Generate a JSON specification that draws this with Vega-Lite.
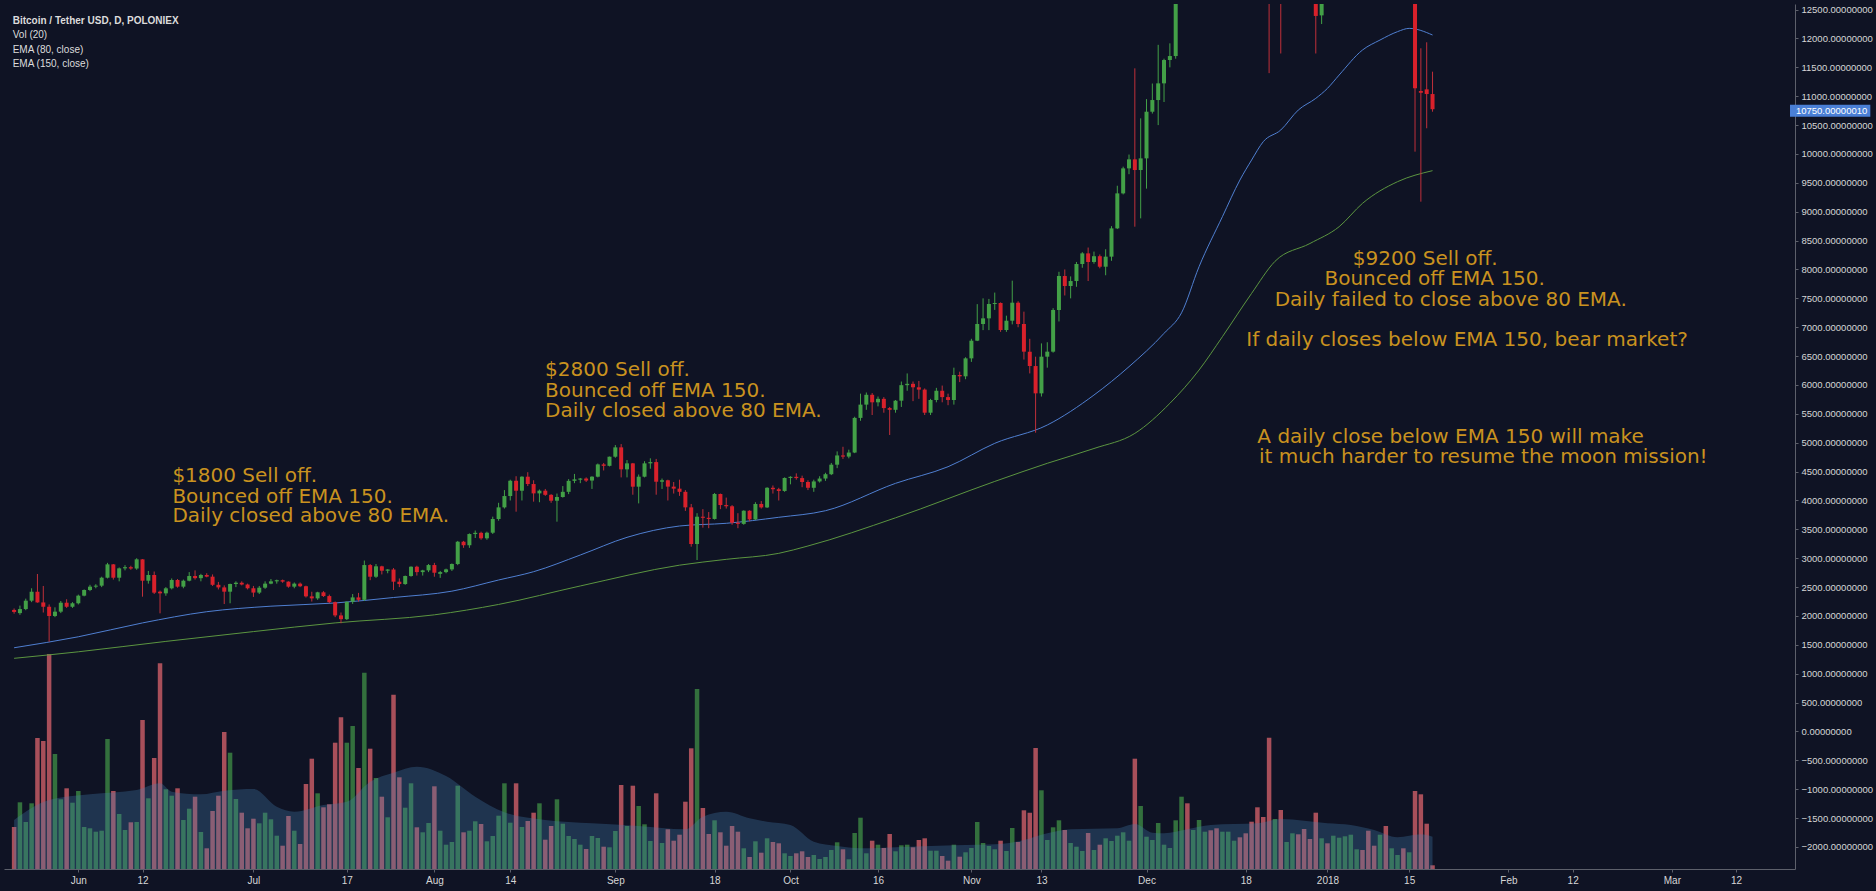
{
"$schema":"https://vega.github.io/schema/vega-lite/v6.json",
"width":1791,"height":865,
"autosize":{"type":"none"},
"padding":{"left":4,"top":4,"right":81,"bottom":22},
"background":"#0f1324",
"config":{"view":{"stroke":null}},
"title":{"text":"Bitcoin / Tether USD, D, POLONIEX","subtitle":["Vol (20)","EMA (80, close)","EMA (150, close)"],"anchor":"start","frame":"group","orient":"top","offset":-65,"dx":8.7,"font":"Liberation Sans","fontSize":10,"fontWeight":"bold","color":"#dcdcdc","subtitleFont":"Liberation Sans","subtitleFontSize":10,"subtitleColor":"#dcdcdc","subtitleLineHeight":14.4,"subtitlePadding":4.3},
"datasets":{
"candles":[
{"t":"2017-05-21","o":2105,"h":2130,"l":2040,"c":2070,"v":42},
{"t":"2017-05-22","o":2050,"h":2180,"l":2020,"c":2120,"v":66.7},
{"t":"2017-05-23","o":2120,"h":2300,"l":2100,"c":2265,"v":47},
{"t":"2017-05-24","o":2265,"h":2480,"l":2240,"c":2420,"v":65.7},
{"t":"2017-05-25","o":2420,"h":2727,"l":2230,"c":2235,"v":131},
{"t":"2017-05-26","o":2235,"h":2520,"l":2060,"c":2160,"v":128},
{"t":"2017-05-27","o":2160,"h":2200,"l":1555,"c":2000,"v":215},
{"t":"2017-05-28","o":2000,"h":2150,"l":1980,"c":2075,"v":115},
{"t":"2017-05-29","o":2075,"h":2260,"l":2050,"c":2230,"v":69.7},
{"t":"2017-05-30","o":2230,"h":2290,"l":2140,"c":2160,"v":80.7},
{"t":"2017-05-31","o":2160,"h":2240,"l":2140,"c":2220,"v":66.3},
{"t":"2017-06-01","o":2220,"h":2370,"l":2200,"c":2352,"v":78},
{"t":"2017-06-02","o":2352,"h":2460,"l":2340,"c":2450,"v":42},
{"t":"2017-06-03","o":2450,"h":2540,"l":2430,"c":2508,"v":40.7},
{"t":"2017-06-04","o":2508,"h":2550,"l":2480,"c":2525,"v":37.3},
{"t":"2017-06-05","o":2525,"h":2680,"l":2500,"c":2663,"v":38.3},
{"t":"2017-06-06","o":2663,"h":2920,"l":2650,"c":2894,"v":130},
{"t":"2017-06-07","o":2894,"h":2900,"l":2630,"c":2663,"v":78},
{"t":"2017-06-08","o":2663,"h":2840,"l":2600,"c":2825,"v":55},
{"t":"2017-06-09","o":2825,"h":2880,"l":2790,"c":2845,"v":39},
{"t":"2017-06-10","o":2845,"h":2870,"l":2800,"c":2822,"v":46.7},
{"t":"2017-06-11","o":2822,"h":3000,"l":2800,"c":2981,"v":47},
{"t":"2017-06-12","o":2981,"h":2985,"l":2334,"c":2611,"v":149},
{"t":"2017-06-13","o":2611,"h":2780,"l":2560,"c":2710,"v":70.7},
{"t":"2017-06-14","o":2710,"h":2770,"l":2380,"c":2404,"v":111},
{"t":"2017-06-15","o":2421,"h":2440,"l":2046,"c":2392,"v":205.7},
{"t":"2017-06-16","o":2392,"h":2500,"l":2350,"c":2479,"v":79.7},
{"t":"2017-06-17","o":2479,"h":2650,"l":2460,"c":2623,"v":73.3},
{"t":"2017-06-18","o":2623,"h":2640,"l":2490,"c":2508,"v":80.7},
{"t":"2017-06-19","o":2508,"h":2630,"l":2480,"c":2611,"v":49},
{"t":"2017-06-20","o":2611,"h":2760,"l":2600,"c":2692,"v":60.3},
{"t":"2017-06-21","o":2692,"h":2790,"l":2630,"c":2655,"v":72.3},
{"t":"2017-06-22","o":2655,"h":2730,"l":2600,"c":2710,"v":37},
{"t":"2017-06-23","o":2710,"h":2740,"l":2670,"c":2681,"v":20.7},
{"t":"2017-06-24","o":2681,"h":2720,"l":2520,"c":2540,"v":58},
{"t":"2017-06-25","o":2540,"h":2590,"l":2460,"c":2495,"v":73.3},
{"t":"2017-06-26","o":2495,"h":2530,"l":2207,"c":2421,"v":137},
{"t":"2017-06-27","o":2421,"h":2560,"l":2220,"c":2554,"v":116.3},
{"t":"2017-06-28","o":2554,"h":2600,"l":2500,"c":2576,"v":70},
{"t":"2017-06-29","o":2576,"h":2600,"l":2530,"c":2545,"v":56.3},
{"t":"2017-06-30","o":2545,"h":2560,"l":2460,"c":2480,"v":40.7},
{"t":"2017-07-01","o":2480,"h":2520,"l":2330,"c":2405,"v":50.3},
{"t":"2017-07-02","o":2405,"h":2520,"l":2380,"c":2490,"v":45.7},
{"t":"2017-07-03","o":2490,"h":2600,"l":2470,"c":2560,"v":56.3},
{"t":"2017-07-04","o":2560,"h":2640,"l":2550,"c":2600,"v":49.7},
{"t":"2017-07-05","o":2600,"h":2630,"l":2560,"c":2620,"v":33.3},
{"t":"2017-07-06","o":2620,"h":2630,"l":2575,"c":2595,"v":23.3},
{"t":"2017-07-07","o":2595,"h":2600,"l":2490,"c":2508,"v":53},
{"t":"2017-07-08","o":2508,"h":2580,"l":2480,"c":2560,"v":38.3},
{"t":"2017-07-09","o":2560,"h":2580,"l":2500,"c":2515,"v":25},
{"t":"2017-07-10","o":2515,"h":2525,"l":2320,"c":2340,"v":85},
{"t":"2017-07-11","o":2340,"h":2420,"l":2250,"c":2305,"v":110.3},
{"t":"2017-07-12","o":2305,"h":2420,"l":2280,"c":2410,"v":75.7},
{"t":"2017-07-13","o":2410,"h":2430,"l":2330,"c":2345,"v":61.7},
{"t":"2017-07-14","o":2345,"h":2370,"l":2220,"c":2240,"v":64.7},
{"t":"2017-07-15","o":2240,"h":2250,"l":1980,"c":2010,"v":126.3},
{"t":"2017-07-16","o":2010,"h":2060,"l":1873,"c":1945,"v":151.7},
{"t":"2017-07-17","o":1945,"h":2250,"l":1930,"c":2247,"v":126.3},
{"t":"2017-07-18","o":2247,"h":2380,"l":2210,"c":2322,"v":143},
{"t":"2017-07-19","o":2322,"h":2400,"l":2250,"c":2280,"v":101},
{"t":"2017-07-20","o":2280,"h":2960,"l":2260,"c":2882,"v":196.3},
{"t":"2017-07-21","o":2882,"h":2900,"l":2620,"c":2680,"v":120.3},
{"t":"2017-07-22","o":2680,"h":2900,"l":2660,"c":2860,"v":91},
{"t":"2017-07-23","o":2860,"h":2870,"l":2720,"c":2784,"v":72.3},
{"t":"2017-07-24","o":2784,"h":2810,"l":2740,"c":2805,"v":51.7},
{"t":"2017-07-25","o":2805,"h":2830,"l":2450,"c":2594,"v":174.3},
{"t":"2017-07-26","o":2594,"h":2650,"l":2500,"c":2553,"v":91.7},
{"t":"2017-07-27","o":2553,"h":2700,"l":2540,"c":2692,"v":61.3},
{"t":"2017-07-28","o":2692,"h":2860,"l":2680,"c":2853,"v":85.7},
{"t":"2017-07-29","o":2853,"h":2870,"l":2700,"c":2760,"v":41.7},
{"t":"2017-07-30","o":2760,"h":2800,"l":2700,"c":2790,"v":36.7},
{"t":"2017-07-31","o":2790,"h":2900,"l":2760,"c":2882,"v":46},
{"t":"2017-08-01","o":2882,"h":2920,"l":2680,"c":2749,"v":82.7},
{"t":"2017-08-02","o":2730,"h":2780,"l":2660,"c":2760,"v":38.3},
{"t":"2017-08-03","o":2760,"h":2820,"l":2740,"c":2807,"v":24.3},
{"t":"2017-08-04","o":2807,"h":2910,"l":2780,"c":2900,"v":27},
{"t":"2017-08-05","o":2900,"h":3300,"l":2880,"c":3286,"v":83.3},
{"t":"2017-08-06","o":3286,"h":3300,"l":3180,"c":3225,"v":36.7},
{"t":"2017-08-07","o":3225,"h":3430,"l":3180,"c":3419,"v":38.3},
{"t":"2017-08-08","o":3419,"h":3480,"l":3350,"c":3440,"v":47.7},
{"t":"2017-08-09","o":3440,"h":3460,"l":3320,"c":3345,"v":45},
{"t":"2017-08-10","o":3345,"h":3460,"l":3320,"c":3442,"v":27.7},
{"t":"2017-08-11","o":3442,"h":3720,"l":3420,"c":3679,"v":33},
{"t":"2017-08-12","o":3679,"h":3960,"l":3650,"c":3881,"v":53.3},
{"t":"2017-08-13","o":3881,"h":4180,"l":3860,"c":4077,"v":85.7},
{"t":"2017-08-14","o":4077,"h":4360,"l":4000,"c":4342,"v":46.3},
{"t":"2017-08-15","o":4342,"h":4420,"l":3806,"c":4169,"v":85.7},
{"t":"2017-08-16","o":4169,"h":4420,"l":4000,"c":4412,"v":42},
{"t":"2017-08-17","o":4412,"h":4490,"l":4250,"c":4285,"v":48},
{"t":"2017-08-18","o":4285,"h":4350,"l":3980,"c":4123,"v":56.3},
{"t":"2017-08-19","o":4123,"h":4190,"l":3970,"c":4170,"v":65.7},
{"t":"2017-08-20","o":4170,"h":4200,"l":4080,"c":4098,"v":29.3},
{"t":"2017-08-21","o":4098,"h":4110,"l":3960,"c":3996,"v":43},
{"t":"2017-08-22","o":3996,"h":4120,"l":3633,"c":4060,"v":69.7},
{"t":"2017-08-23","o":4060,"h":4250,"l":4050,"c":4150,"v":45.3},
{"t":"2017-08-24","o":4150,"h":4370,"l":4110,"c":4340,"v":33},
{"t":"2017-08-25","o":4340,"h":4460,"l":4300,"c":4366,"v":30},
{"t":"2017-08-26","o":4360,"h":4390,"l":4300,"c":4380,"v":24.3},
{"t":"2017-08-27","o":4380,"h":4400,"l":4320,"c":4345,"v":20},
{"t":"2017-08-28","o":4345,"h":4420,"l":4200,"c":4412,"v":33},
{"t":"2017-08-29","o":4412,"h":4640,"l":4400,"c":4625,"v":31},
{"t":"2017-08-30","o":4625,"h":4650,"l":4520,"c":4600,"v":22.3},
{"t":"2017-08-31","o":4600,"h":4760,"l":4590,"c":4758,"v":21.7},
{"t":"2017-09-01","o":4758,"h":4960,"l":4740,"c":4920,"v":38},
{"t":"2017-09-02","o":4920,"h":4977,"l":4400,"c":4539,"v":84},
{"t":"2017-09-03","o":4539,"h":4700,"l":4400,"c":4643,"v":43},
{"t":"2017-09-04","o":4643,"h":4650,"l":4100,"c":4239,"v":83.3},
{"t":"2017-09-05","o":4239,"h":4450,"l":3950,"c":4412,"v":63},
{"t":"2017-09-06","o":4412,"h":4680,"l":4400,"c":4643,"v":44.7},
{"t":"2017-09-07","o":4643,"h":4730,"l":4550,"c":4665,"v":28},
{"t":"2017-09-08","o":4665,"h":4720,"l":4100,"c":4325,"v":75.7},
{"t":"2017-09-09","o":4325,"h":4380,"l":4200,"c":4350,"v":26},
{"t":"2017-09-10","o":4350,"h":4360,"l":4000,"c":4240,"v":39.7},
{"t":"2017-09-11","o":4240,"h":4320,"l":4120,"c":4205,"v":28.3},
{"t":"2017-09-12","o":4205,"h":4360,"l":4080,"c":4150,"v":34.3},
{"t":"2017-09-13","o":4150,"h":4180,"l":3820,"c":3881,"v":67.3},
{"t":"2017-09-14","o":3881,"h":3940,"l":3200,"c":3246,"v":120.7},
{"t":"2017-09-15","o":3246,"h":3780,"l":2969,"c":3719,"v":180},
{"t":"2017-09-16","o":3719,"h":3850,"l":3530,"c":3700,"v":61},
{"t":"2017-09-17","o":3700,"h":3800,"l":3520,"c":3680,"v":35},
{"t":"2017-09-18","o":3680,"h":4130,"l":3670,"c":4112,"v":48.7},
{"t":"2017-09-19","o":4112,"h":4120,"l":3850,"c":3921,"v":36.7},
{"t":"2017-09-20","o":3921,"h":4050,"l":3860,"c":3900,"v":23.3},
{"t":"2017-09-21","o":3900,"h":3920,"l":3580,"c":3615,"v":43},
{"t":"2017-09-22","o":3615,"h":3780,"l":3520,"c":3595,"v":37.3},
{"t":"2017-09-23","o":3595,"h":3830,"l":3580,"c":3823,"v":20.7},
{"t":"2017-09-24","o":3823,"h":3830,"l":3640,"c":3673,"v":12},
{"t":"2017-09-25","o":3673,"h":3970,"l":3660,"c":3940,"v":27.7},
{"t":"2017-09-26","o":3940,"h":3990,"l":3860,"c":3880,"v":16.3},
{"t":"2017-09-27","o":3880,"h":4230,"l":3870,"c":4220,"v":30.7},
{"t":"2017-09-28","o":4220,"h":4260,"l":4120,"c":4195,"v":27},
{"t":"2017-09-29","o":4195,"h":4220,"l":4000,"c":4165,"v":25.7},
{"t":"2017-09-30","o":4165,"h":4400,"l":4150,"c":4390,"v":15.7},
{"t":"2017-10-01","o":4390,"h":4420,"l":4280,"c":4410,"v":13},
{"t":"2017-10-02","o":4410,"h":4470,"l":4360,"c":4388,"v":15.7},
{"t":"2017-10-03","o":4388,"h":4430,"l":4230,"c":4320,"v":17.7},
{"t":"2017-10-04","o":4320,"h":4350,"l":4180,"c":4220,"v":12},
{"t":"2017-10-05","o":4220,"h":4360,"l":4150,"c":4330,"v":14},
{"t":"2017-10-06","o":4330,"h":4420,"l":4310,"c":4380,"v":10},
{"t":"2017-10-07","o":4380,"h":4480,"l":4340,"c":4455,"v":12},
{"t":"2017-10-08","o":4455,"h":4650,"l":4440,"c":4620,"v":19},
{"t":"2017-10-09","o":4620,"h":4850,"l":4560,"c":4780,"v":26.7},
{"t":"2017-10-10","o":4780,"h":4930,"l":4720,"c":4760,"v":19.7},
{"t":"2017-10-11","o":4760,"h":4880,"l":4730,"c":4830,"v":9.7},
{"t":"2017-10-12","o":4830,"h":5450,"l":4820,"c":5430,"v":36},
{"t":"2017-10-13","o":5430,"h":5850,"l":5380,"c":5660,"v":51.3},
{"t":"2017-10-14","o":5660,"h":5870,"l":5570,"c":5830,"v":15.7},
{"t":"2017-10-15","o":5830,"h":5860,"l":5480,"c":5700,"v":28.3},
{"t":"2017-10-16","o":5700,"h":5800,"l":5630,"c":5760,"v":24.3},
{"t":"2017-10-17","o":5760,"h":5790,"l":5520,"c":5600,"v":21},
{"t":"2017-10-18","o":5600,"h":5620,"l":5134,"c":5570,"v":35},
{"t":"2017-10-19","o":5570,"h":5740,"l":5520,"c":5728,"v":17.7},
{"t":"2017-10-20","o":5728,"h":6060,"l":5620,"c":5997,"v":23.7},
{"t":"2017-10-21","o":5997,"h":6200,"l":5900,"c":6020,"v":24.3},
{"t":"2017-10-22","o":6020,"h":6060,"l":5720,"c":5960,"v":21.7},
{"t":"2017-10-23","o":5960,"h":6070,"l":5760,"c":5920,"v":29},
{"t":"2017-10-24","o":5920,"h":5940,"l":5480,"c":5520,"v":30.7},
{"t":"2017-10-25","o":5520,"h":5760,"l":5480,"c":5740,"v":18.3},
{"t":"2017-10-26","o":5740,"h":5950,"l":5700,"c":5900,"v":18.3},
{"t":"2017-10-27","o":5900,"h":5990,"l":5700,"c":5790,"v":13},
{"t":"2017-10-28","o":5790,"h":5850,"l":5650,"c":5740,"v":8.3},
{"t":"2017-10-29","o":5740,"h":6300,"l":5660,"c":6173,"v":24.3},
{"t":"2017-10-30","o":6173,"h":6230,"l":6050,"c":6150,"v":12.3},
{"t":"2017-10-31","o":6150,"h":6480,"l":6100,"c":6461,"v":16.7},
{"t":"2017-11-01","o":6461,"h":6800,"l":6400,"c":6767,"v":21},
{"t":"2017-11-02","o":6767,"h":7400,"l":6760,"c":7056,"v":47},
{"t":"2017-11-03","o":7056,"h":7500,"l":6950,"c":7154,"v":26},
{"t":"2017-11-04","o":7154,"h":7490,"l":6950,"c":7402,"v":23},
{"t":"2017-11-05","o":7402,"h":7600,"l":7300,"c":7420,"v":19.7},
{"t":"2017-11-06","o":7420,"h":7430,"l":6920,"c":6952,"v":28.3},
{"t":"2017-11-07","o":6952,"h":7200,"l":6920,"c":7113,"v":18},
{"t":"2017-11-08","o":7113,"h":7806,"l":7050,"c":7425,"v":41},
{"t":"2017-11-09","o":7425,"h":7450,"l":7000,"c":7056,"v":27},
{"t":"2017-11-10","o":7056,"h":7270,"l":6440,"c":6577,"v":58.7},
{"t":"2017-11-11","o":6577,"h":6800,"l":6200,"c":6328,"v":56.3},
{"t":"2017-11-12","o":6328,"h":6490,"l":5174,"c":5855,"v":121},
{"t":"2017-11-13","o":5855,"h":6720,"l":5800,"c":6490,"v":78.7},
{"t":"2017-11-14","o":6490,"h":6740,"l":6300,"c":6577,"v":29},
{"t":"2017-11-15","o":6577,"h":7330,"l":6560,"c":7298,"v":41.7},
{"t":"2017-11-16","o":7298,"h":7960,"l":7100,"c":7887,"v":48.7},
{"t":"2017-11-17","o":7887,"h":8000,"l":7550,"c":7714,"v":39},
{"t":"2017-11-18","o":7714,"h":7880,"l":7500,"c":7800,"v":26},
{"t":"2017-11-19","o":7800,"h":8130,"l":7700,"c":8095,"v":22.3},
{"t":"2017-11-20","o":8095,"h":8300,"l":8030,"c":8279,"v":18},
{"t":"2017-11-21","o":8279,"h":8380,"l":7800,"c":8130,"v":36},
{"t":"2017-11-22","o":8130,"h":8310,"l":8100,"c":8230,"v":19},
{"t":"2017-11-23","o":8230,"h":8260,"l":8020,"c":8048,"v":24.3},
{"t":"2017-11-24","o":8048,"h":8350,"l":7900,"c":8222,"v":30.7},
{"t":"2017-11-25","o":8222,"h":8750,"l":8150,"c":8712,"v":28},
{"t":"2017-11-26","o":8712,"h":9450,"l":8700,"c":9318,"v":33.3},
{"t":"2017-11-27","o":9318,"h":9780,"l":9300,"c":9751,"v":36.7},
{"t":"2017-11-28","o":9751,"h":9990,"l":9650,"c":9907,"v":28.3},
{"t":"2017-11-29","o":9907,"h":11483,"l":8741,"c":9722,"v":110.3},
{"t":"2017-11-30","o":9722,"h":10617,"l":8885,"c":9924,"v":63},
{"t":"2017-12-01","o":9924,"h":10950,"l":9400,"c":10732,"v":32.3},
{"t":"2017-12-02","o":10732,"h":11220,"l":10700,"c":10934,"v":29},
{"t":"2017-12-03","o":10934,"h":11890,"l":10500,"c":11223,"v":46},
{"t":"2017-12-04","o":11223,"h":11650,"l":10900,"c":11627,"v":24.3},
{"t":"2017-12-05","o":11627,"h":11916,"l":11500,"c":11696,"v":21},
{"t":"2017-12-06","o":11696,"h":14100,"l":11650,"c":13750,"v":48.7},
{"t":"2017-12-07","o":13750,"h":17200,"l":13500,"c":16800,"v":72.3},
{"t":"2017-12-08","o":16800,"h":17300,"l":14000,"c":16100,"v":65.7},
{"t":"2017-12-09","o":16100,"h":16500,"l":13200,"c":16200,"v":39},
{"t":"2017-12-10","o":16200,"h":16400,"l":13300,"c":16300,"v":49},
{"t":"2017-12-11","o":16300,"h":17400,"l":16000,"c":17100,"v":37.3},
{"t":"2017-12-12","o":17100,"h":17600,"l":16500,"c":16900,"v":38.7},
{"t":"2017-12-13","o":16900,"h":17300,"l":15900,"c":16500,"v":40.7},
{"t":"2017-12-14","o":16500,"h":16900,"l":16100,"c":16700,"v":37.3},
{"t":"2017-12-15","o":16700,"h":17900,"l":16400,"c":17700,"v":37.3},
{"t":"2017-12-16","o":17700,"h":19500,"l":17500,"c":19400,"v":28.3},
{"t":"2017-12-17","o":19400,"h":19700,"l":18800,"c":19100,"v":31.7},
{"t":"2017-12-18","o":19100,"h":19200,"l":18100,"c":18900,"v":35.7},
{"t":"2017-12-19","o":18900,"h":18950,"l":16600,"c":17200,"v":47.3},
{"t":"2017-12-20","o":17200,"h":17800,"l":15000,"c":16400,"v":61.7},
{"t":"2017-12-21","o":16400,"h":17300,"l":14800,"c":15500,"v":52},
{"t":"2017-12-22","o":15500,"h":15800,"l":11400,"c":13800,"v":131.3},
{"t":"2017-12-23","o":13800,"h":15500,"l":13500,"c":14400,"v":50},
{"t":"2017-12-24","o":14400,"h":14450,"l":11740,"c":13900,"v":59},
{"t":"2017-12-25","o":13900,"h":14500,"l":13300,"c":14000,"v":27},
{"t":"2017-12-26","o":14000,"h":16300,"l":13900,"c":15900,"v":35.7},
{"t":"2017-12-27","o":15900,"h":16500,"l":14900,"c":15500,"v":34.7},
{"t":"2017-12-28","o":15500,"h":15550,"l":13600,"c":14400,"v":40},
{"t":"2017-12-29","o":14400,"h":15100,"l":14100,"c":14300,"v":30},
{"t":"2017-12-30","o":14300,"h":14500,"l":11740,"c":12390,"v":56.3},
{"t":"2017-12-31","o":12400,"h":14000,"l":12250,"c":13800,"v":30.7},
{"t":"2018-01-01","o":13800,"h":13900,"l":12800,"c":13400,"v":25.7},
{"t":"2018-01-02","o":13400,"h":15400,"l":12900,"c":14700,"v":33.3},
{"t":"2018-01-03","o":14700,"h":15400,"l":14600,"c":15100,"v":31.3},
{"t":"2018-01-04","o":15100,"h":15400,"l":14000,"c":15200,"v":32.7},
{"t":"2018-01-05","o":15200,"h":17100,"l":14900,"c":16900,"v":34.3},
{"t":"2018-01-06","o":16900,"h":17200,"l":16200,"c":17100,"v":19.7},
{"t":"2018-01-07","o":17100,"h":17150,"l":15900,"c":16200,"v":19},
{"t":"2018-01-08","o":16200,"h":16300,"l":13900,"c":14900,"v":38.3},
{"t":"2018-01-09","o":14900,"h":15300,"l":14300,"c":14400,"v":23.3},
{"t":"2018-01-10","o":14400,"h":14900,"l":13300,"c":14800,"v":34.3},
{"t":"2018-01-11","o":14800,"h":14900,"l":13000,"c":13300,"v":43},
{"t":"2018-01-12","o":13300,"h":14100,"l":12800,"c":13800,"v":20.7},
{"t":"2018-01-13","o":13800,"h":14500,"l":13800,"c":14200,"v":14},
{"t":"2018-01-14","o":14200,"h":14300,"l":13400,"c":13700,"v":20.7},
{"t":"2018-01-15","o":13700,"h":14200,"l":13400,"c":13750,"v":16.7},
{"t":"2018-01-16","o":13750,"h":13800,"l":10040,"c":11137,"v":78},
{"t":"2018-01-17","o":11090,"h":11830,"l":9174,"c":11060,"v":74.7},
{"t":"2018-01-18","o":11119,"h":11934,"l":10445,"c":11038,"v":45.3},
{"t":"2018-01-19","o":11038,"h":11425,"l":10732,"c":10775,"v":3.7}
],
"ema80":[
{"t":"2017-05-21","e":1450},{"t":"2017-06-01","e":1640},{"t":"2017-06-12","e":1880},{"t":"2017-06-23","e":2074},{"t":"2017-07-04","e":2170},{"t":"2017-07-15","e":2225},{"t":"2017-07-25","e":2320},{"t":"2017-08-04","e":2430},{"t":"2017-08-12","e":2623},{"t":"2017-08-18","e":2767},{"t":"2017-08-26","e":3056},{"t":"2017-09-03","e":3362},{"t":"2017-09-12","e":3558},{"t":"2017-09-20","e":3605},{"t":"2017-09-29","e":3709},{"t":"2017-10-07","e":3823},{"t":"2017-10-19","e":4297},{"t":"2017-10-28","e":4585},{"t":"2017-11-05","e":4990},{"t":"2017-11-14","e":5307},{"t":"2017-11-22","e":5826},{"t":"2017-11-28","e":6317},{"t":"2017-12-04","e":6894},{"t":"2017-12-07","e":7250},{"t":"2017-12-10","e":8048},{"t":"2017-12-14","e":8914},{"t":"2017-12-17","e":9549},{"t":"2017-12-19","e":9895},{"t":"2017-12-21","e":10213},{"t":"2017-12-24","e":10415},{"t":"2017-12-27","e":10761},{"t":"2017-12-30","e":10963},{"t":"2018-01-01","e":11136},{"t":"2018-01-03","e":11367},{"t":"2018-01-07","e":11800},{"t":"2018-01-10","e":11973},{"t":"2018-01-13","e":12118},{"t":"2018-01-15","e":12175},{"t":"2018-01-19","e":12060}
],
"ema150":[
{"t":"2017-05-21","e":1267},{"t":"2017-06-01","e":1380},{"t":"2017-06-16","e":1560},{"t":"2017-07-01","e":1730},{"t":"2017-07-15","e":1880},{"t":"2017-08-01","e":2020},{"t":"2017-08-12","e":2200},{"t":"2017-08-26","e":2520},{"t":"2017-09-12","e":2880},{"t":"2017-09-20","e":2981},{"t":"2017-09-29","e":3085},{"t":"2017-10-04","e":3212},{"t":"2017-10-19","e":3700},{"t":"2017-11-05","e":4330},{"t":"2017-11-14","e":4644},{"t":"2017-11-22","e":4900},{"t":"2017-11-29","e":5162},{"t":"2017-12-05","e":5682},{"t":"2017-12-10","e":6259},{"t":"2017-12-14","e":6836},{"t":"2017-12-19","e":7586},{"t":"2017-12-23","e":8140},{"t":"2017-12-29","e":8450},{"t":"2018-01-03","e":8741},{"t":"2018-01-07","e":9145},{"t":"2018-01-13","e":9520},{"t":"2018-01-19","e":9711}
],
"volma":[
{"t":"2017-05-21","m":49},{"t":"2017-05-27","m":69},{"t":"2017-06-03","m":74.7},{"t":"2017-06-11","m":79},{"t":"2017-06-15","m":85.7},{"t":"2017-06-17","m":77.3},{"t":"2017-06-22","m":74.7},{"t":"2017-06-26","m":78.3},{"t":"2017-07-01","m":80},{"t":"2017-07-05","m":62.3},{"t":"2017-07-08","m":57.3},{"t":"2017-07-13","m":64},{"t":"2017-07-17","m":67.3},{"t":"2017-07-21","m":87.3},{"t":"2017-07-25","m":96.3},{"t":"2017-07-29","m":102.3},{"t":"2017-08-03","m":93},{"t":"2017-08-08","m":72.3},{"t":"2017-08-13","m":56.7},{"t":"2017-08-20","m":49},{"t":"2017-08-28","m":45.7},{"t":"2017-09-05","m":43},{"t":"2017-09-13","m":39.7},{"t":"2017-09-16","m":52.3},{"t":"2017-09-20","m":57.3},{"t":"2017-09-24","m":50.7},{"t":"2017-09-27","m":47.3},{"t":"2017-10-01","m":44},{"t":"2017-10-05","m":27.3},{"t":"2017-10-09","m":23},{"t":"2017-10-13","m":20.7},{"t":"2017-10-21","m":22.3},{"t":"2017-10-29","m":23.7},{"t":"2017-11-06","m":25},{"t":"2017-11-10","m":29},{"t":"2017-11-14","m":35.7},{"t":"2017-11-18","m":39.7},{"t":"2017-11-26","m":40.7},{"t":"2017-11-29","m":45},{"t":"2017-12-02","m":36.3},{"t":"2017-12-04","m":35.7},{"t":"2017-12-08","m":39.7},{"t":"2017-12-12","m":44},{"t":"2017-12-20","m":45.7},{"t":"2017-12-24","m":50},{"t":"2018-01-01","m":45.7},{"t":"2018-01-05","m":44},{"t":"2018-01-09","m":39},{"t":"2018-01-13","m":31.7},{"t":"2018-01-17","m":34.7},{"t":"2018-01-19","m":32.3}
],
"notes":[
{"t":"2017-06-17T02:47:00Z","p":4315,"s":"$1800 Sell off."},
{"t":"2017-06-17T02:47:00Z","p":3961,"s":"Bounced off EMA 150."},
{"t":"2017-06-17T02:47:00Z","p":3622,"s":"Daily closed above 80 EMA."},
{"t":"2017-08-19T22:48:00Z","p":6152,"s":"$2800 Sell off."},
{"t":"2017-08-19T22:48:00Z","p":5799,"s":"Bounced off EMA 150."},
{"t":"2017-08-19T22:48:00Z","p":5445,"s":"Daily closed above 80 EMA."},
{"t":"2018-01-05T08:24:00Z","p":8077,"s":"$9200 Sell off."},
{"t":"2017-12-31T11:31:00Z","p":7731,"s":"Bounced off EMA 150."},
{"t":"2017-12-22T23:02:00Z","p":7367,"s":"Daily failed to close above 80 EMA."},
{"t":"2017-12-18T02:10:00Z","p":6675,"s":"If daily closes below EMA 150, bear market?"},
{"t":"2017-12-19T23:46:00Z","p":4990,"s":"A daily close below EMA 150 will make"},
{"t":"2017-12-20T06:29:00Z","p":4654,"s":"it much harder to resume the moon mission!"}
],
"lastbox":[{"t":"2018-03-21T05:45:00Z","t2":"2018-04-04T00:00:00Z","p":10750.0000001}],
"lastlabel":[{"t":"2018-03-22T06:14:00Z","p":10750.0000001}]
},
"encoding":{"x":{"field":"t","type":"temporal",
 "scale":{"type":"utc","domain":[{"year":2017,"month":5,"date":20,"hours":3,"minutes":1,"utc":true},{"year":2018,"month":3,"date":21,"hours":5,"minutes":45,"utc":true}]},
 "axis":{"title":null,"grid":false,"orient":"bottom",
  "values":[{"year":2017,"month":6,"date":1,"utc":true},{"year":2017,"month":6,"date":12,"utc":true},{"year":2017,"month":7,"date":1,"utc":true},{"year":2017,"month":7,"date":17,"utc":true},{"year":2017,"month":8,"date":1,"utc":true},{"year":2017,"month":8,"date":14,"utc":true},{"year":2017,"month":9,"date":1,"utc":true},{"year":2017,"month":9,"date":18,"utc":true},{"year":2017,"month":10,"date":1,"utc":true},{"year":2017,"month":10,"date":16,"utc":true},{"year":2017,"month":11,"date":1,"utc":true},{"year":2017,"month":11,"date":13,"utc":true},{"year":2017,"month":12,"date":1,"utc":true},{"year":2017,"month":12,"date":18,"utc":true},{"year":2018,"month":1,"date":1,"utc":true},{"year":2018,"month":1,"date":15,"utc":true},{"year":2018,"month":2,"date":1,"utc":true},{"year":2018,"month":2,"date":12,"utc":true},{"year":2018,"month":3,"date":1,"utc":true},{"year":2018,"month":3,"date":12,"utc":true}],
  "labelExpr":"utcdate(datum.value) == 1 ? (utcmonth(datum.value) == 0 ? utcFormat(datum.value, '%Y') : utcFormat(datum.value, '%b')) : utcFormat(datum.value, '%d')",
  "labelFont":"Liberation Sans","labelFontSize":10,"labelColor":"#d6d6d6","labelPadding":3,"labelFlush":false,"labelOverlap":false,
  "tickColor":"#5d606b","tickSize":3,"domainColor":"#5d606b"}}},
"resolve":{"scale":{"y":"independent"}},
"layer":[
{"data":{"name":"candles"},"mark":{"type":"bar","width":4.5,"clip":true},
 "encoding":{"y":{"field":"v","type":"quantitative","scale":{"domain":[0,865],"nice":false},"axis":null},
 "color":{"condition":{"test":"datum.c >= datum.o","value":"#33703d"},"value":"#a84f5a"}}},
{"data":{"name":"volma"},"mark":{"type":"area","color":"#4682b4","opacity":0.3,"clip":true,"interpolate":"monotone"},
 "encoding":{"y":{"field":"m","type":"quantitative","scale":{"domain":[0,865],"nice":false},"axis":null}}},
{"data":{"name":"ema150"},"mark":{"type":"line","color":"#5b9540","strokeWidth":1,"clip":true,"interpolate":"monotone"},
 "encoding":{"y":{"field":"e","type":"quantitative","scale":{"domain":[-2381,12597],"nice":false,"zero":false},"axis":null}}},
{"data":{"name":"ema80"},"mark":{"type":"line","color":"#4f7fd1","strokeWidth":1,"clip":true,"interpolate":"monotone"},
 "encoding":{"y":{"field":"e","type":"quantitative","scale":{"domain":[-2381,12597],"nice":false,"zero":false},"axis":null}}},
{"data":{"name":"candles"},"mark":{"type":"rule","strokeWidth":1,"clip":true},
 "encoding":{"y":{"field":"l","type":"quantitative","scale":{"domain":[-2381,12597],"nice":false,"zero":false},
   "axis":{"orient":"right","title":null,"grid":false,"values":[-2000,-1500,-1000,-500,0,500,1000,1500,2000,2500,3000,3500,4000,4500,5000,5500,6000,6500,7000,7500,8000,8500,9000,9500,10000,10500,11000,11500,12000,12500],"format":".8f","labelFont":"Liberation Sans","labelFontSize":9.5,"labelColor":"#d6d6d6","labelPadding":3,"labelFlush":false,"labelOverlap":false,"tickColor":"#5d606b","tickSize":3,"domainColor":"#5d606b"}},
  "y2":{"field":"h"},
  "color":{"condition":{"test":"datum.c >= datum.o","value":"#43a047"},"value":"#c0303a"}}},
{"data":{"name":"candles"},"mark":{"type":"bar","width":4,"clip":true},
 "encoding":{"y":{"field":"o","type":"quantitative","scale":{"domain":[-2381,12597],"nice":false,"zero":false},"axis":null},
  "y2":{"field":"c"},
  "color":{"condition":{"test":"datum.c >= datum.o","value":"#43a047"},"value":"#d9212b"}}},
{"data":{"name":"notes"},"mark":{"type":"text","align":"left","baseline":"alphabetic","font":"DejaVu Sans","fontSize":20,"color":"#c9921f"},
 "encoding":{"y":{"field":"p","type":"quantitative","scale":{"domain":[-2381,12597],"nice":false,"zero":false},"axis":null},"text":{"field":"s"}}},
{"data":{"name":"lastbox"},"mark":{"type":"rule","strokeWidth":12,"color":"#4a7fd6","clip":false},
 "encoding":{"x2":{"field":"t2"},"y":{"field":"p","type":"quantitative","scale":{"domain":[-2381,12597],"nice":false,"zero":false},"axis":null}}},
{"data":{"name":"lastlabel"},"mark":{"type":"text","align":"left","baseline":"middle","font":"Liberation Sans","fontSize":9.5,"color":"#ffffff","clip":false},
 "encoding":{"y":{"field":"p","type":"quantitative","scale":{"domain":[-2381,12597],"nice":false,"zero":false},"axis":null},"text":{"field":"p","type":"quantitative","format":".8f"}}}
]
}
